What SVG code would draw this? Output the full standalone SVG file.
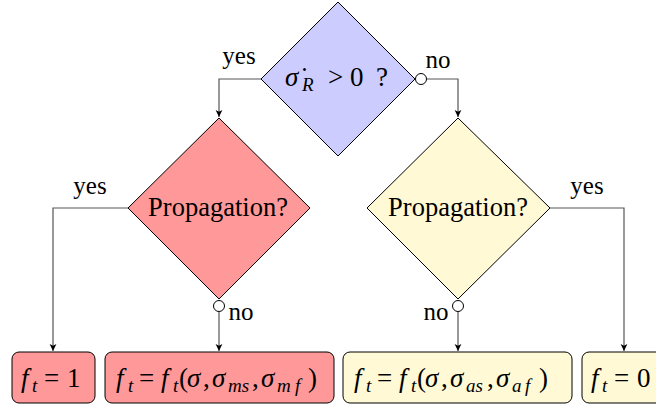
<svg xmlns="http://www.w3.org/2000/svg" width="656" height="407" viewBox="0 0 656 407">
<defs>
<marker id="arr" markerWidth="8" markerHeight="8" refX="7" refY="4" orient="auto" markerUnits="userSpaceOnUse">
<path d="M0,0.6 L7,4 L0,7.4 L1.8,4 z" fill="#000"/>
</marker>
<style>
text{font-family:"Liberation Serif","Times New Roman",serif;fill:#000}
.lbl{font-size:25px;text-anchor:middle}
.dt{font-size:26.5px;text-anchor:middle}
.m{font-size:27px}
.i{font-style:italic}
.s{font-size:19px;font-style:italic}
.conn{fill:none;stroke:#555;stroke-width:1.2}
.oc{fill:#fff;stroke:#000;stroke-width:1}
.dia{stroke:#000;stroke-width:1}
.box{stroke:#000;stroke-width:1}
</style>
</defs>

<g id="connectors">
<path class="conn" d="M262,79 H219 V117" marker-end="url(#arr)"/>
<path class="conn" d="M426.5,79 H458 V117" marker-end="url(#arr)"/>
<path class="conn" d="M128,208 H53 V351" marker-end="url(#arr)"/>
<path class="conn" d="M219,312 V351" marker-end="url(#arr)"/>
<path class="conn" d="M458,312 V351" marker-end="url(#arr)"/>
<path class="conn" d="M550,208 H624 V351" marker-end="url(#arr)"/>
<circle class="oc" cx="421" cy="79" r="5.5"/>
<circle class="oc" cx="219" cy="306" r="5.5"/>
<circle class="oc" cx="458" cy="306" r="5.5"/>
<text class="lbl" x="239" y="64">yes</text>
<text class="lbl" x="438" y="68">no</text>
<text class="lbl" x="90" y="194">yes</text>
<text class="lbl" x="587" y="194">yes</text>
<text class="lbl" x="241" y="320">no</text>
<text class="lbl" x="436" y="320">no</text>
</g>

<g id="decision-top">
<polygon class="dia" points="338,2 415,79 338,156 261,79" fill="#ccccff"/>
<text class="m"><tspan class="i" x="285" y="86">σ̇</tspan><tspan class="s" x="302" y="91">R</tspan><tspan x="328" y="86">&gt;</tspan><tspan x="350" y="86">0</tspan><tspan x="376" y="86">?</tspan></text>
</g>

<g id="decision-left">
<polygon class="dia" points="219,118 310,208 219,299 128,208" fill="#ff9999"/>
<text class="dt" x="218" y="216">Propagation?</text>
</g>

<g id="decision-right">
<polygon class="dia" points="458,118 550,208 458,299 367,208" fill="#fffad5"/>
<text class="dt" x="458" y="216">Propagation?</text>
</g>

<g id="box1">
<rect class="box" x="12" y="352" width="83" height="51" rx="7" fill="#ff9999"/>
<text class="m"><tspan class="i" x="21" y="387">f</tspan><tspan class="s" x="32" y="392">t</tspan><tspan x="44" y="387">=</tspan><tspan x="67" y="387">1</tspan></text>
</g>

<g id="box2">
<rect class="box" x="105" y="352" width="229" height="51" rx="7" fill="#ff9999"/>
<text class="m"><tspan class="i" x="116" y="387">f</tspan><tspan class="s" x="128" y="392">t</tspan><tspan x="139" y="387">=</tspan><tspan class="i" x="161" y="387">f</tspan><tspan class="s" x="173" y="392">t</tspan><tspan x="179" y="387">(</tspan><tspan class="i" x="187" y="387">σ</tspan><tspan x="203" y="387">,</tspan><tspan class="i" x="212" y="387">σ</tspan><tspan class="s" x="228" y="392">ms</tspan><tspan x="252" y="387">,</tspan><tspan class="i" x="261" y="387">σ</tspan><tspan class="s" x="277" y="392">m</tspan><tspan class="s" x="295" y="392">f</tspan><tspan x="308" y="387">)</tspan></text>
</g>

<g id="box3">
<rect class="box" x="343" y="352" width="229" height="51" rx="7" fill="#fffad5"/>
<text class="m"><tspan class="i" x="354" y="387">f</tspan><tspan class="s" x="366" y="392">t</tspan><tspan x="377" y="387">=</tspan><tspan class="i" x="399" y="387">f</tspan><tspan class="s" x="411" y="392">t</tspan><tspan x="417" y="387">(</tspan><tspan class="i" x="425" y="387">σ</tspan><tspan x="441" y="387">,</tspan><tspan class="i" x="450" y="387">σ</tspan><tspan class="s" x="466" y="392">as</tspan><tspan x="487" y="387">,</tspan><tspan class="i" x="496" y="387">σ</tspan><tspan class="s" x="512" y="392">a</tspan><tspan class="s" x="525" y="392">f</tspan><tspan x="539" y="387">)</tspan></text>
</g>

<g id="box4">
<rect class="box" x="582" y="352" width="83" height="51" rx="7" fill="#fffad5"/>
<text class="m"><tspan class="i" x="591" y="387">f</tspan><tspan class="s" x="602" y="392">t</tspan><tspan x="614" y="387">=</tspan><tspan x="637" y="387">0</tspan></text>
</g>
</svg>
